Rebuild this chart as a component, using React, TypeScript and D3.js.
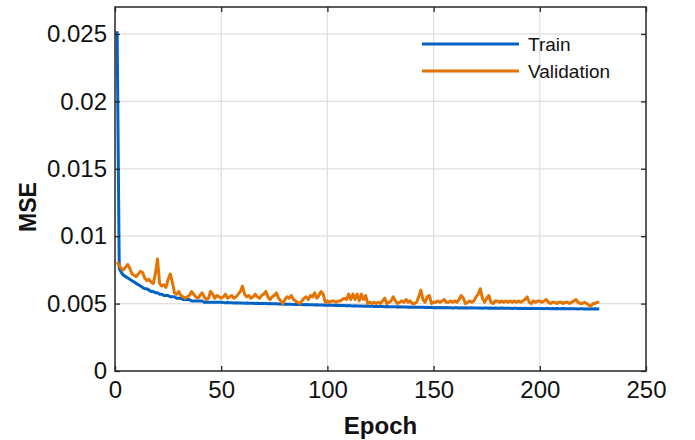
import React, { useRef, useEffect } from "react";
import * as d3 from "d3";

// MSE per epoch (epochs 1..228)
const trainMSE = [
  0.0252, 0.0076, 0.0073, 0.0071, 0.0070, 0.0069, 0.0068, 0.0067, 0.0066, 0.0065,
  0.0064, 0.0063, 0.0062, 0.0061, 0.0061, 0.0060, 0.0059, 0.0059, 0.0058, 0.0058,
  0.0057, 0.0057, 0.0056, 0.0056, 0.0056, 0.0055, 0.0055, 0.0055, 0.0054, 0.0054,
  0.0054, 0.0053, 0.0053, 0.0053, 0.0053, 0.0052, 0.0052, 0.0052, 0.0052, 0.0052,
  0.0052, 0.0051, 0.0051, 0.0051, 0.0051, 0.0051, 0.0051, 0.0051, 0.0051, 0.0051,
  0.00508, 0.00507, 0.00508, 0.00506, 0.00506, 0.00505, 0.00506, 0.00504, 0.00505, 0.00504,
  0.00503, 0.00504, 0.00502, 0.00503, 0.00502, 0.00501, 0.00502, 0.005, 0.00501, 0.005,
  0.005, 0.00499, 0.005, 0.00498, 0.00499, 0.00498, 0.00497, 0.00498, 0.00496, 0.00497,
  0.00496, 0.00495, 0.00496, 0.00494, 0.00495, 0.00494, 0.00493, 0.00494, 0.00492, 0.00493,
  0.00492, 0.00491, 0.00492, 0.0049, 0.00491, 0.0049, 0.00489, 0.0049, 0.00488, 0.00489,
  0.00488, 0.00487, 0.00488, 0.00486, 0.00487, 0.00486, 0.00485, 0.00486, 0.00484, 0.00485,
  0.00484, 0.00483, 0.00484, 0.00482, 0.00483, 0.00482, 0.00481, 0.00482, 0.0048, 0.00481,
  0.0048, 0.00479, 0.0048, 0.00478, 0.00479, 0.00478, 0.00477, 0.00478, 0.00476, 0.00477,
  0.00476, 0.00477, 0.00475, 0.00476, 0.00475, 0.00474, 0.00475, 0.00473, 0.00474, 0.00473,
  0.00474, 0.00472, 0.00473, 0.00472, 0.00473, 0.00471, 0.00472, 0.00471, 0.00472, 0.0047,
  0.00471, 0.0047, 0.00471, 0.00469, 0.0047, 0.00471, 0.00469, 0.0047, 0.00468, 0.00469,
  0.0047, 0.00468, 0.00469, 0.00468, 0.00469, 0.00467, 0.00468, 0.00469, 0.00467, 0.00468,
  0.00467, 0.00468, 0.00466, 0.00467, 0.00468, 0.00466, 0.00467, 0.00466, 0.00467, 0.00465,
  0.00466, 0.00467, 0.00465, 0.00466, 0.00465, 0.00466, 0.00464, 0.00465, 0.00466, 0.00464,
  0.00465, 0.00464, 0.00465, 0.00463, 0.00464, 0.00465, 0.00463, 0.00464, 0.00463, 0.00464,
  0.00463, 0.00462, 0.00463, 0.00464, 0.00462, 0.00463, 0.00462, 0.00463, 0.00461, 0.00462,
  0.00463, 0.00461, 0.00462, 0.00461, 0.00462, 0.00461, 0.00462, 0.0046, 0.00461, 0.00462,
  0.0046, 0.00461, 0.0046, 0.00461, 0.0046, 0.00461, 0.0046, 0.00461,
];

const validationMSE = [
  0.0081, 0.0078, 0.0076, 0.0075, 0.0077, 0.0079, 0.0076, 0.0072, 0.0071, 0.0070,
  0.0072, 0.0074, 0.0073, 0.0069, 0.0067, 0.0068, 0.0066, 0.0065, 0.0072, 0.0083,
  0.0065, 0.0063, 0.0064, 0.0062, 0.0068, 0.0072, 0.0066, 0.0058, 0.0057, 0.0059,
  0.0056, 0.0055, 0.0054, 0.0055, 0.0056, 0.0059, 0.0057, 0.0055, 0.0054, 0.0056,
  0.0058, 0.0055, 0.0053, 0.0054, 0.0059, 0.0057, 0.0054, 0.0056, 0.0055, 0.0054,
  0.0055, 0.0057, 0.0054, 0.0055, 0.0056, 0.0054, 0.0055, 0.0057, 0.0059, 0.0063,
  0.0057, 0.0055, 0.0056, 0.0054, 0.0055, 0.0057, 0.0055, 0.0054, 0.0056, 0.0057,
  0.0059, 0.0055, 0.0053, 0.0055, 0.0056, 0.0058, 0.0054, 0.0052, 0.0050, 0.0053,
  0.0055, 0.0054, 0.0056, 0.0053, 0.0052, 0.0051, 0.0050, 0.0052, 0.0054, 0.0055,
  0.0053, 0.0056, 0.0055, 0.0058, 0.0054, 0.0056, 0.0059, 0.0057, 0.0051, 0.0052,
  0.0051, 0.0052, 0.0052, 0.0051, 0.0052, 0.0052, 0.0053, 0.0054, 0.0053, 0.0057,
  0.0053, 0.0057, 0.0053, 0.0057, 0.0052, 0.0057, 0.0053, 0.0056, 0.0050, 0.0051,
  0.0050, 0.0051, 0.0050, 0.0051, 0.0050, 0.0052, 0.0054, 0.0050, 0.0051, 0.0052,
  0.0055, 0.0052, 0.0050, 0.0051, 0.0052, 0.0051, 0.0053, 0.0051, 0.0052, 0.0050,
  0.0050, 0.0051, 0.0055, 0.0060, 0.0053, 0.0051, 0.0055, 0.0056, 0.0050, 0.0051,
  0.0051, 0.0052, 0.0051, 0.0052, 0.0053, 0.0051, 0.0051, 0.0052, 0.0051, 0.0052,
  0.0051, 0.0053, 0.0056, 0.0054, 0.0050, 0.0051, 0.0052, 0.0051, 0.0052, 0.0055,
  0.0057, 0.0061, 0.0054, 0.0051, 0.0054, 0.0056, 0.0051, 0.0050, 0.0052, 0.0052,
  0.0051, 0.0052, 0.0051, 0.0052, 0.0051, 0.0052, 0.0051, 0.0052, 0.0051, 0.0052,
  0.0051, 0.0052, 0.0053, 0.0055, 0.0051, 0.0050, 0.0052, 0.0051, 0.0052, 0.0052,
  0.0051, 0.0052, 0.0053, 0.0051, 0.0050, 0.0051, 0.0051, 0.0050, 0.0051, 0.0051,
  0.0050, 0.0051, 0.0051, 0.0050, 0.0051, 0.0052, 0.0053, 0.0051, 0.0050, 0.0050,
  0.0051, 0.0050, 0.0049, 0.0048, 0.0050, 0.0050, 0.0051, 0.0051,
];

const xTicks = [0, 50, 100, 150, 200, 250];
const yTicks = [0, 0.005, 0.01, 0.015, 0.02, 0.025];
const yTickLabels = ["0", "0.005", "0.01", "0.015", "0.02", "0.025"];

const seriesNames = ["Train", "Validation"];
const seriesColors = ["#0062c4", "#e67300"];

const FONT = "'Liberation Sans', Arial, Helvetica, sans-serif";

const App = () => {
  const svgRef = useRef(null);

  useEffect(() => {
    if (!svgRef.current) return;
    const svg = d3.select(svgRef.current);
    svg.selectAll("*").remove();

    const width = 695;
    const height = 440;
    const margins = { left: 115, right: 49, top: 7, bottom: 69 };
    const w = width - margins.left - margins.right;
    const h = height - margins.top - margins.bottom;

    const g = svg
      .append("g")
      .attr("transform", `translate(${margins.left},${margins.top})`);

    const xScale = d3.scaleLinear().domain([0, 250]).range([0, w]);
    const yScale = d3.scaleLinear().domain([0, 0.027]).range([h, 0]);

    // grid
    g.append("g")
      .selectAll("line")
      .data(xTicks.slice(1, -1))
      .join("line")
      .attr("x1", (d) => xScale(d))
      .attr("x2", (d) => xScale(d))
      .attr("y1", 0)
      .attr("y2", h)
      .attr("stroke", "#dedede")
      .attr("stroke-width", 1.2);
    g.append("g")
      .selectAll("line")
      .data(yTicks.slice(1))
      .join("line")
      .attr("x1", 0)
      .attr("x2", w)
      .attr("y1", (d) => yScale(d))
      .attr("y2", (d) => yScale(d))
      .attr("stroke", "#dedede")
      .attr("stroke-width", 1.2);

    // series
    const line = d3
      .line<number>()
      .x((d, i) => xScale(i + 1))
      .y((d) => yScale(d));
    [trainMSE, validationMSE].forEach((data, k) => {
      g.append("path")
        .datum(data)
        .attr("fill", "none")
        .attr("stroke", seriesColors[k])
        .attr("stroke-width", 3)
        .attr("stroke-linejoin", "round")
        .attr("d", line);
    });
    // train drawn on top of validation at start? keep validation above like reference
    g.select("path:last-of-type").raise();

    // axes (MATLAB-like box with inward ticks)
    const xAxis = d3
      .axisBottom(xScale)
      .tickValues(xTicks)
      .tickSize(-5)
      .tickPadding(10)
      .tickFormat(d3.format("d"));
    const yAxis = d3
      .axisLeft(yScale)
      .tickValues(yTicks)
      .tickSize(-5)
      .tickPadding(8)
      .tickFormat((d, i) => yTickLabels[i]);

    const gx = g.append("g").attr("transform", `translate(0,${h})`).call(xAxis);
    const gy = g.append("g").call(yAxis);
    const gxTop = g
      .append("g")
      .call(d3.axisTop(xScale).tickValues(xTicks).tickSize(-5).tickFormat(() => ""));
    const gyRight = g
      .append("g")
      .attr("transform", `translate(${w},0)`)
      .call(d3.axisRight(yScale).tickValues(yTicks).tickSize(-5).tickFormat(() => ""));

    [gx, gy, gxTop, gyRight].forEach((a) => {
      a.select(".domain").remove();
      a.selectAll("line").attr("stroke", "#262626").attr("stroke-width", 1.3);
      a.selectAll("text")
        .attr("fill", "#111")
        .style("font-family", FONT)
        .style("font-size", "24px");
    });

    g.append("rect")
      .attr("x", 0)
      .attr("y", 0)
      .attr("width", w)
      .attr("height", h)
      .attr("fill", "none")
      .attr("stroke", "#262626")
      .attr("stroke-width", 1.5);

    // axis titles
    svg
      .append("text")
      .attr("x", margins.left + w / 2)
      .attr("y", 434)
      .attr("text-anchor", "middle")
      .style("font-family", FONT)
      .style("font-size", "24px")
      .style("font-weight", "bold")
      .attr("fill", "#111")
      .text("Epoch");
    svg
      .append("text")
      .attr("transform", `translate(36,207) rotate(-90)`)
      .attr("text-anchor", "middle")
      .style("font-family", FONT)
      .style("font-size", "23px")
      .style("font-weight", "bold")
      .attr("fill", "#111")
      .text("MSE");

    // legend
    const legend = svg.append("g").attr("transform", "translate(422,44)");
    seriesNames.forEach((name, k) => {
      const row = legend.append("g").attr("transform", `translate(0,${k * 27})`);
      row
        .append("line")
        .attr("x1", 0)
        .attr("x2", 97)
        .attr("stroke", seriesColors[k])
        .attr("stroke-width", 3);
      row
        .append("text")
        .attr("x", 106)
        .attr("dy", "0.35em")
        .style("font-family", FONT)
        .style("font-size", "19px")
        .attr("fill", "#111")
        .text(name);
    });
  }, []);

  return (
    <div style={{ position: "absolute", left: 0, top: 0 }}>
      <svg ref={svgRef} width={695} height={440} style={{ display: "block", background: "#fff" }} />
    </div>
  );
};

export default App;
